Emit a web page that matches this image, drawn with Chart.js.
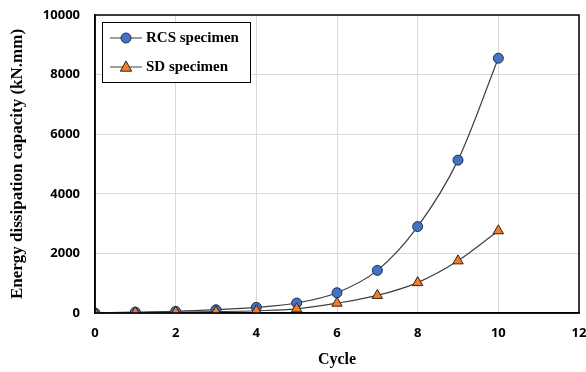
<!DOCTYPE html>
<html>
<head>
<meta charset="utf-8">
<script src="https://cdn.jsdelivr.net/npm/chart.js@4.4.1/dist/chart.umd.min.js"></script>
<style>
  html, body { margin: 0; padding: 0; background: #fff; }
  #wrap { width: 586px; height: 372px; position: relative; }
</style>
</head>
<body>
<div id="wrap"><canvas id="chart" width="586" height="372"></canvas></div>
<script>
// Cycle numbers and energy dissipation (kN.mm)
const cycles = [0, 1, 2, 3, 4, 5, 6, 7, 8, 9, 10];
const rcsEnergy = [0, 30, 55, 110, 190, 335, 680, 1430, 2900, 5130, 8550];
const sdEnergy = [0, 10, 25, 45, 75, 140, 330, 590, 1020, 1750, 2760];
const seriesNames = ["RCS specimen", "SD specimen"];

const xTicks = [0, 2, 4, 6, 8, 10, 12];
const yTicks = [0, 2000, 4000, 6000, 8000, 10000];

const tickFont = { family: "'Open Sans', 'Liberation Sans', sans-serif", size: 13, weight: "bold" };
const titleFont = { family: "'Liberation Serif', 'DejaVu Serif', serif", size: 16, weight: "bold" };
const yTitleFont = { family: "'Liberation Serif', 'DejaVu Serif', serif", size: 17, weight: "bold" };

// Frame round the plot area and the legend box in its top-left corner
const framePlugin = {
  id: "frame",
  afterDraw(chart) {
    const { ctx, chartArea: a } = chart;
    ctx.save();
    ctx.strokeStyle = "#000";
    ctx.lineWidth = 1.5;
    ctx.strokeRect(a.left, a.top, a.right - a.left, a.bottom - a.top);

    // legend
    const bx = a.left + 7, by = a.top + 7, bw = 148, bh = 60;
    ctx.fillStyle = "#fff";
    ctx.fillRect(bx, by, bw, bh);
    ctx.strokeStyle = "#000";
    ctx.lineWidth = 1;
    ctx.strokeRect(bx + 0.5, by + 0.5, bw, bh);

    const rows = [by + 16, by + 45];
    chart.data.datasets.forEach((ds, i) => {
      const y = rows[i];
      const mx = bx + 24;
      ctx.strokeStyle = ds.borderColor;
      ctx.lineWidth = 1;
      ctx.beginPath();
      ctx.moveTo(bx + 8, y);
      ctx.lineTo(bx + 40, y);
      ctx.stroke();

      ctx.fillStyle = ds.pointBackgroundColor;
      ctx.strokeStyle = ds.pointBorderColor;
      ctx.lineWidth = ds.pointBorderWidth;
      ctx.beginPath();
      if (ds.pointStyle === "circle") {
        ctx.arc(mx, y, ds.pointRadius, 0, Math.PI * 2);
      } else {
        const r = ds.pointRadius;
        ctx.moveTo(mx, y - r);
        ctx.lineTo(mx + r * 0.95, y + r * 0.7);
        ctx.lineTo(mx - r * 0.95, y + r * 0.7);
        ctx.closePath();
      }
      ctx.fill();
      ctx.stroke();

      ctx.fillStyle = "#000";
      ctx.font = "bold 15px 'Liberation Serif', serif";
      ctx.textBaseline = "middle";
      ctx.fillText(ds.label, bx + 44, y);
    });
    ctx.restore();
  }
};

const ctx = document.getElementById("chart").getContext("2d");

new Chart(ctx, {
  type: "line",
  data: {
    labels: cycles,
    datasets: [
      {
        label: seriesNames[0],
        data: cycles.map((c, i) => ({ x: c, y: rcsEnergy[i] })),
        borderColor: "#404040",
        borderWidth: 1.2,
        pointStyle: "circle",
        pointRadius: 5,
        pointBorderWidth: 1,
        pointBackgroundColor: "#4472c4",
        pointBorderColor: "#1f2f4f",
        cubicInterpolationMode: "monotone",
        order: 1
      },
      {
        label: seriesNames[1],
        data: cycles.map((c, i) => ({ x: c, y: sdEnergy[i] })),
        borderColor: "#404040",
        borderWidth: 1.2,
        pointStyle: "triangle",
        pointRadius: 6,
        pointBorderWidth: 1,
        pointBackgroundColor: "#ed7d31",
        pointBorderColor: "#3a2210",
        cubicInterpolationMode: "monotone",
        order: 0
      }
    ]
  },
  options: {
    responsive: false,
    animation: false,
    layout: { padding: { top: 15, right: 5, left: 0, bottom: 0 } },
    plugins: {
      legend: { display: false },
      tooltip: { enabled: false }
    },
    scales: {
      x: {
        type: "linear",
        min: 0,
        max: 12,
        afterBuildTicks: (s) => { s.ticks = xTicks.map((v) => ({ value: v })); },
        afterFit: (s) => { s.height = 59; s.paddingLeft = 0; s.paddingRight = 0; },
        grid: { color: "#d9d9d9", drawTicks: false },
        border: { color: "#000", width: 1.5 },
        ticks: { font: tickFont, color: "#000", padding: 12, maxRotation: 0,
                 callback: (v) => String(v) },
        title: {
          display: true,
          text: "Cycle",
          font: titleFont,
          color: "#000",
          padding: { top: 0, bottom: 3 }
        }
      },
      y: {
        min: 0,
        max: 10000,
        afterBuildTicks: (s) => { s.ticks = yTicks.map((v) => ({ value: v })); },
        afterFit: (s) => { s.width = 95; s.paddingTop = 0; s.paddingBottom = 0; },
        grid: { color: "#d9d9d9", drawTicks: false },
        border: { color: "#000", width: 1.5 },
        ticks: { font: tickFont, color: "#000", padding: 15,
                 callback: (v) => String(v) },
        title: {
          display: true,
          text: "Energy dissipation capacity (kN.mm)",
          font: yTitleFont,
          color: "#000",
          padding: { top: 7, bottom: 0 }
        }
      }
    }
  },
  plugins: [framePlugin]
});
</script>
</body>
</html>
